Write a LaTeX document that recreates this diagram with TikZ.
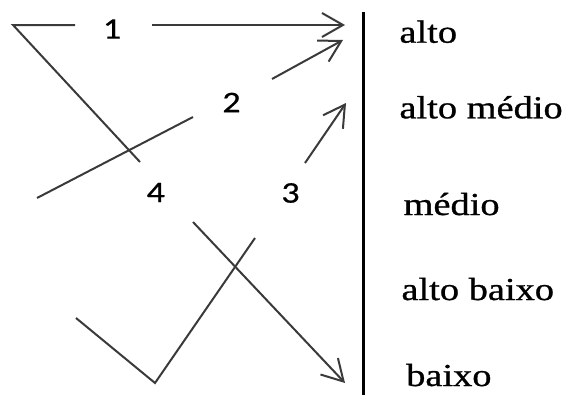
\documentclass[tikz,border=0pt]{standalone}
\usepackage{fontspec}
\newfontfamily\lblfont[FakeBold=0.8]{Liberation Serif}
\newfontfamily\digitfont[FakeBold=0.6]{Carlito}
\usepackage{graphicx}
\usetikzlibrary{arrows.meta}
\definecolor{linegray}{HTML}{3A3A3A}
\begin{document}
\begin{tikzpicture}[x=1pt,y=-1pt,
  conn/.style={draw=linegray, line width=2pt},
  arr/.style={conn, -{Straight Barb[length=21pt,width=24pt]}},
  lvl/.style={anchor=base west, inner sep=0pt, font=\lblfont\fontsize{32}{38}\selectfont},
  num/.style={inner sep=0pt, font=\digitfont\fontsize{30}{36}\selectfont}]
\useasboundingbox (0,0) rectangle (567,399);
% level labels
\node[lvl] (alto)  at (399.3,42.7) {\scalebox{1.2}[1]{alto}};
\node[lvl] (altomedio) at (399.3,118.3) {\scalebox{1.2}[1]{alto médio}};
\node[lvl] (medio) at (403.4,215) {\scalebox{1.2}[1]{médio}};
\node[lvl] (altobaixo) at (401.3,300) {\scalebox{1.2}[1]{alto baixo}};
\node[lvl] (baixo) at (406,386) {\scalebox{1.2}[1]{baixo}};
% numbers
\node[num] (n1) at (112,29) {\scalebox{1.2}[1]{1}};
\node[num] (n2) at (231.5,102.5) {\scalebox{1.2}[1]{2}};
\node[num] (n3) at (290.5,193) {\scalebox{1.2}[1]{3}};
\node[num] (n4) at (155.8,192.5) {\scalebox{1.2}[1]{4}};
% bar
\coordinate (bt) at (363,12);
\coordinate (bb) at (363,395);
\draw[black, line width=3pt] (bt) -- (bb);
% path points
\coordinate (c1) at (13,25);
\coordinate (a1) at (75,25);
\coordinate (b1) at (152,25);
\coordinate (t1) at (345,25);
\coordinate (d4) at (140,162);
\coordinate (e4) at (193,222);
\coordinate (t4) at (345,383);
\coordinate (s2) at (37,198);
\coordinate (g2) at (193,117);
\coordinate (h2) at (272,79);
\coordinate (t2) at (343,40);
\coordinate (s3) at (76,318);
\coordinate (v3) at (155,383);
\coordinate (g3) at (255,238);
\coordinate (h3) at (305,163);
\coordinate (t3) at (346,103);
% connectors
\draw[conn] (a1) -- (c1) -- (d4);
\draw[arr] (b1) -- (t1);
\draw[arr] (e4) -- (t4);
\draw[conn] (s2) -- (g2);
\draw[arr] (h2) -- (t2);
\draw[conn] (s3) -- (v3) -- (g3);
\draw[arr] (h3) -- (t3);
\end{tikzpicture}
\end{document}
